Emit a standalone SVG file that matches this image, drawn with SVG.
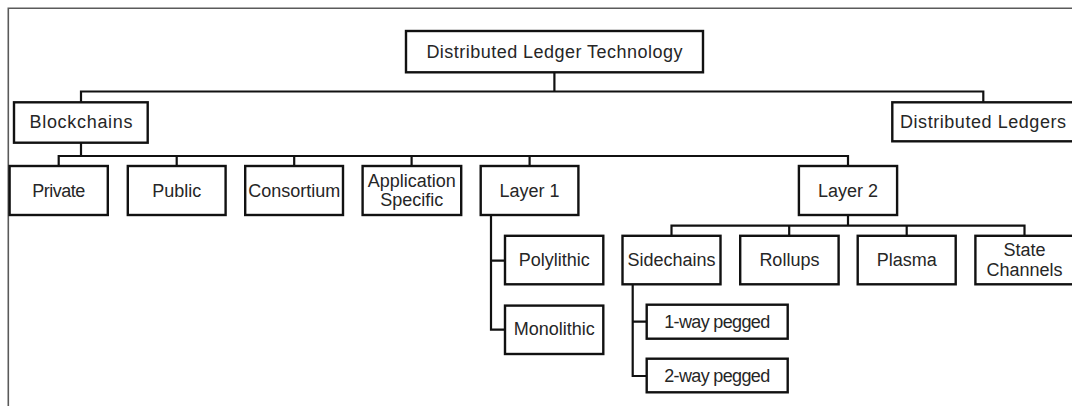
<svg xmlns="http://www.w3.org/2000/svg" width="1072" height="406" viewBox="0 0 1072 406">
  <style>
    .frame { fill: none; stroke: #5a5a5a; stroke-width: 1.6; }
    .box { fill: #ffffff; stroke: #111111; stroke-width: 2.4; }
    .wire { fill: none; stroke: #111111; stroke-width: 2.2; stroke-linecap: square; }
    .lbl { font-family: "Liberation Sans", Arial, sans-serif; font-size: 18px; fill: #262626; text-anchor: middle; }
  </style>

  <rect width="1072" height="406" fill="#ffffff"/>

  <!-- page frame (top and left edges only) -->
  <path class="frame" d="M8.3,406 V8.3 H1072"/>

  <!-- connectors -->
  <g id="connectors">
    <!-- root to level 1 -->
    <path class="wire" d="M554.4,72.3 V91.5 M81,91.5 H983.3 M81,91.5 V102.3 M983.3,91.5 V102.3"/>
    <!-- Blockchains to its categories -->
    <path class="wire" d="M81,142.7 V156 M58.7,156 H848 M58.7,156 V166 M176.7,156 V166 M294.2,156 V166 M411.6,156 V166 M529.6,156 V166 M848,156 V166"/>
    <!-- Layer 1 branches -->
    <path class="wire" d="M491,215 V329.6 H505 M491,260.7 H505"/>
    <!-- Layer 2 branches -->
    <path class="wire" d="M848,215 V225.7 M671.5,225.7 H1024.5 M671.5,225.7 V236 M789.2,225.7 V236 M906.7,225.7 V236 M1024.5,225.7 V236"/>
    <!-- Sidechains branches -->
    <path class="wire" d="M632.7,284.3 V376 H646.7 M632.7,321.7 H646.7"/>
  </g>

  <g id="dlt">
    <rect class="box" x="406" y="31" width="297" height="41.3"/>
    <text class="lbl" x="554.4" y="57.5" textLength="256">Distributed Ledger Technology</text>
  </g>

  <g id="blockchains">
    <rect class="box" x="14" y="102.3" width="133.7" height="40.4"/>
    <text class="lbl" x="81" y="128" textLength="103">Blockchains</text>
  </g>

  <g id="distributed-ledgers">
    <rect class="box" x="892.3" y="102.3" width="182" height="39"/>
    <text class="lbl" x="983" y="128" textLength="166">Distributed Ledgers</text>
  </g>

  <g id="private">
    <rect class="box" x="9.6" y="166" width="98.2" height="49"/>
    <text class="lbl" x="58.7" y="196.5" textLength="53">Private</text>
  </g>

  <g id="public">
    <rect class="box" x="127.8" y="166" width="97.8" height="49"/>
    <text class="lbl" x="176.7" y="196.5">Public</text>
  </g>

  <g id="consortium">
    <rect class="box" x="245.2" y="166" width="97.8" height="49"/>
    <text class="lbl" x="294.2" y="196.5">Consortium</text>
  </g>

  <g id="application-specific">
    <rect class="box" x="362.6" y="166" width="98.6" height="49"/>
    <text class="lbl" x="411.8" y="187">Application</text>
    <text class="lbl" x="411.8" y="206">Specific</text>
  </g>

  <g id="layer-1">
    <rect class="box" x="480.7" y="166" width="97.7" height="49"/>
    <text class="lbl" x="529.6" y="196.5">Layer 1</text>
  </g>

  <g id="layer-2">
    <rect class="box" x="798.9" y="166" width="98.2" height="49"/>
    <text class="lbl" x="848" y="196.5">Layer 2</text>
  </g>

  <g id="polylithic">
    <rect class="box" x="505" y="235.8" width="98.3" height="48.5"/>
    <text class="lbl" x="554.2" y="266">Polylithic</text>
  </g>

  <g id="monolithic">
    <rect class="box" x="505" y="305.6" width="98.3" height="48.4"/>
    <text class="lbl" x="554.2" y="335">Monolithic</text>
  </g>

  <g id="sidechains">
    <rect class="box" x="622.5" y="235.8" width="98" height="48.5"/>
    <text class="lbl" x="671.5" y="266">Sidechains</text>
  </g>

  <g id="rollups">
    <rect class="box" x="740.2" y="235.8" width="98.4" height="48.5"/>
    <text class="lbl" x="789.4" y="266">Rollups</text>
  </g>

  <g id="plasma">
    <rect class="box" x="857.7" y="235.8" width="98" height="48.5"/>
    <text class="lbl" x="906.7" y="266">Plasma</text>
  </g>

  <g id="state-channels">
    <rect class="box" x="975.4" y="235.8" width="98.2" height="48.5"/>
    <text class="lbl" x="1024.5" y="256">State</text>
    <text class="lbl" x="1024.5" y="275.5">Channels</text>
  </g>

  <g id="one-way-pegged">
    <rect class="box" x="646.7" y="304.7" width="141" height="34"/>
    <text class="lbl" x="717.2" y="327.5" textLength="106">1-way pegged</text>
  </g>

  <g id="two-way-pegged">
    <rect class="box" x="646.7" y="358.7" width="141" height="33.6"/>
    <text class="lbl" x="717.2" y="381.5" textLength="106">2-way pegged</text>
  </g>
</svg>
